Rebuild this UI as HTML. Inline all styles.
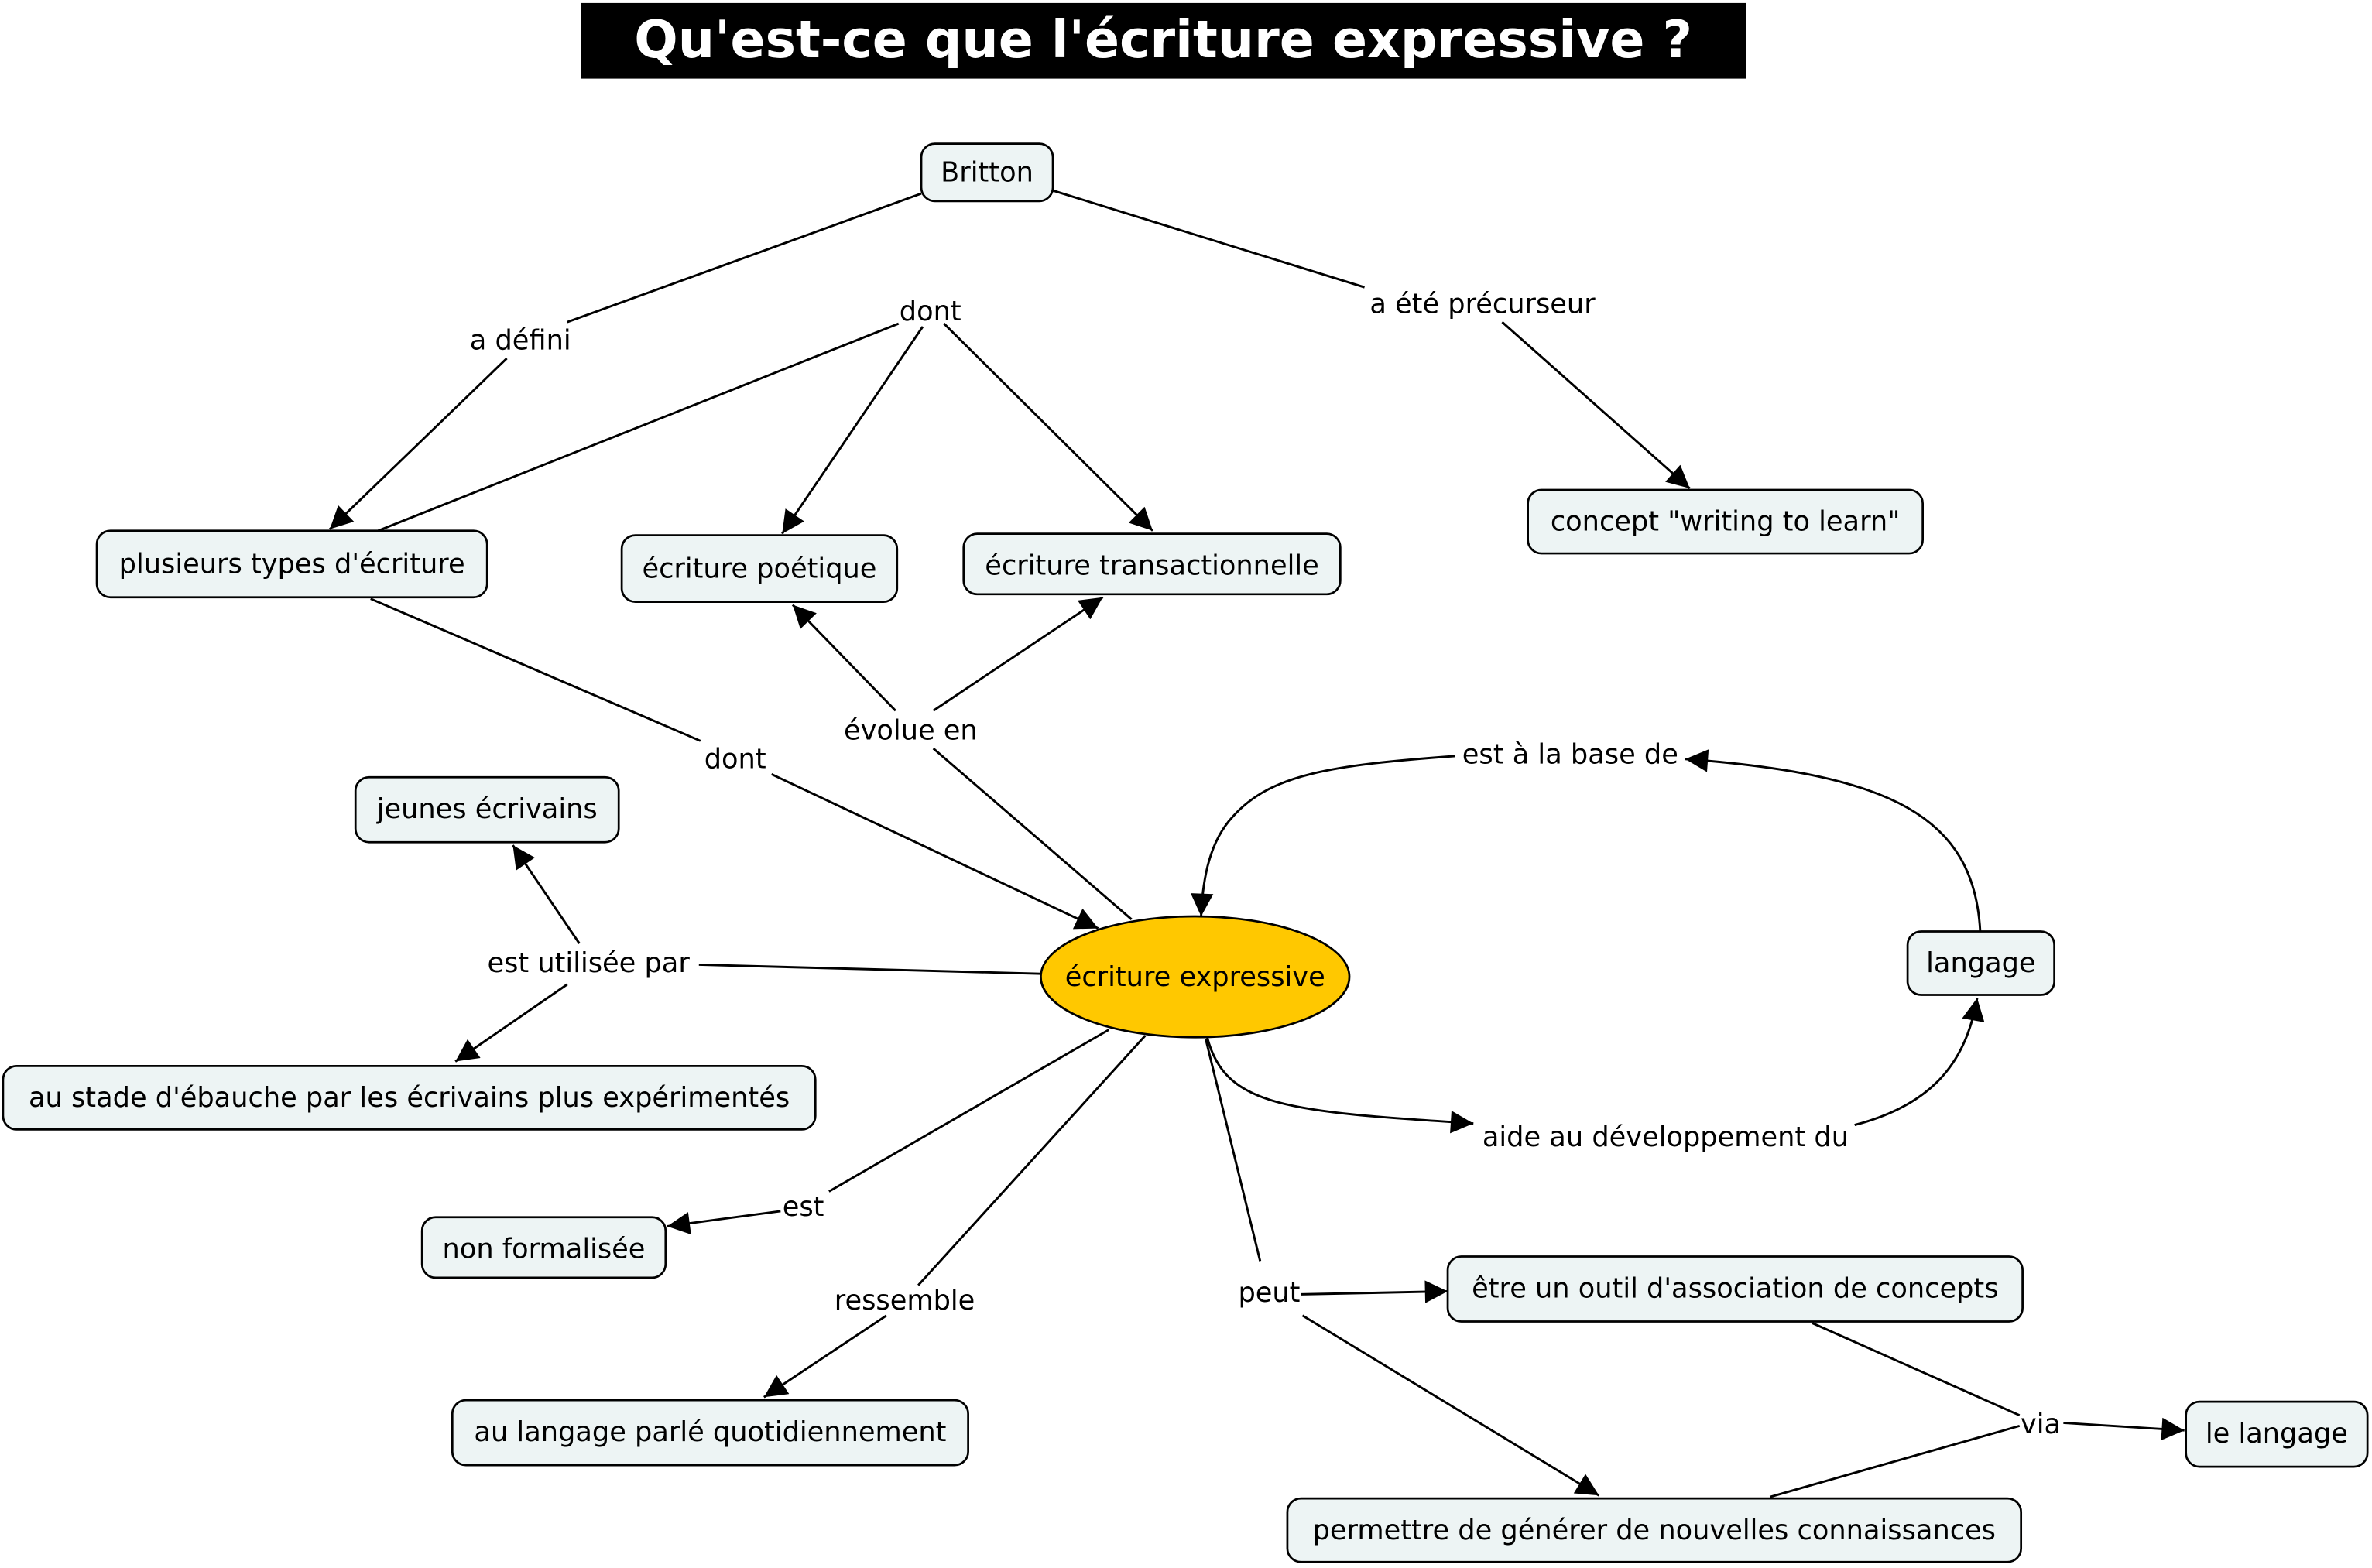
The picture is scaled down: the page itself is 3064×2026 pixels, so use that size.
<!DOCTYPE html>
<html><head><meta charset="utf-8">
<style>
html,body{margin:0;padding:0;background:#fff;width:3064px;height:2026px;overflow:hidden}
svg{display:block}
text{font-family:"DejaVu Sans","Liberation Sans",sans-serif;font-size:18px;fill:#000}
.n{fill:#EDF4F4;stroke:#000;stroke-width:1.4}
.l{stroke:#000;stroke-width:1.5;fill:none}
</style></head><body>
<svg width="3064" height="2026" viewBox="0 0 1568 1037" preserveAspectRatio="none" xmlns="http://www.w3.org/2000/svg">
<defs><marker id="b" viewBox="0 0 10 10" refX="10" refY="5" markerWidth="17" markerHeight="15" markerUnits="userSpaceOnUse" orient="auto"><path d="M0,0L10,5L0,10z" fill="#000"/></marker></defs>
<rect x="384" y="2" width="770" height="50" fill="#000"/>
<text x="769" y="38" text-anchor="middle" style="font-size:34px;font-weight:bold;fill:#fff">Qu'est-ce que l'écriture expressive ?</text>

<g class="l">
<path d="M609,128L375,213"/><path d="M335,237L218,350" marker-end="url(#b)"/>
<path d="M696,126L902,190"/><path d="M993,213L1117,323" marker-end="url(#b)"/>
<path d="M250,351L594,214"/><path d="M610,216L517,353" marker-end="url(#b)"/><path d="M624,214L762,351" marker-end="url(#b)"/>
<path d="M245,396L463,490"/><path d="M510,512L726,614" marker-end="url(#b)"/>
<path d="M748,608L617,495"/><path d="M592,470L524,400" marker-end="url(#b)"/><path d="M617,470L729,395" marker-end="url(#b)"/>
<path d="M1309,616C1305,540 1250,512 1114,502" marker-end="url(#b)"/>
<path d="M962,500C880,506 840,512 815,540C800,556 795,580 794,606" marker-end="url(#b)"/>
<path d="M688,644L462,638"/><path d="M383,624L339,559" marker-end="url(#b)"/><path d="M375,651L301,702" marker-end="url(#b)"/>
<path d="M798,686C810,732 850,735 974,743" marker-end="url(#b)"/>
<path d="M1226,744C1280,730 1300,700 1307,660" marker-end="url(#b)"/>
<path d="M733,681L548,788"/><path d="M516,801L441,811" marker-end="url(#b)"/>
<path d="M757,685L607,850"/><path d="M586,870L505,924" marker-end="url(#b)"/>
<path d="M797,687L833,834"/><path d="M860,856L957,854" marker-end="url(#b)"/><path d="M861,870L1057,989" marker-end="url(#b)"/>
<path d="M1198,875L1335,936"/><path d="M1170,990L1335,943"/><path d="M1364,941L1444,946" marker-end="url(#b)"/>
</g>

<g>
<rect class="n" x="609" y="95" width="87" height="38" rx="9"/><text x="652.5" y="120" text-anchor="middle">Britton</text>
<rect class="n" x="64" y="351" width="258" height="44" rx="9"/><text x="193" y="379" text-anchor="middle">plusieurs types d'écriture</text>
<rect class="n" x="411" y="354" width="182" height="44" rx="9"/><text x="502" y="382" text-anchor="middle">écriture poétique</text>
<rect class="n" x="637" y="353" width="249" height="40" rx="9"/><text x="761.5" y="380" text-anchor="middle">écriture transactionnelle</text>
<rect class="n" x="1010" y="324" width="261" height="42" rx="9"/><text x="1140.5" y="351" text-anchor="middle">concept "writing to learn"</text>
<rect class="n" x="235" y="514" width="174" height="43" rx="9"/><text x="322" y="541" text-anchor="middle">jeunes écrivains</text>
<rect class="n" x="1261" y="616" width="97" height="42" rx="9"/><text x="1309.5" y="643" text-anchor="middle">langage</text>
<rect class="n" x="2" y="705" width="537" height="42" rx="9"/><text x="270.5" y="732" text-anchor="middle">au stade d'ébauche par les écrivains plus expérimentés</text>
<ellipse cx="790" cy="646" rx="102" ry="40" fill="#FFC800" stroke="#000" stroke-width="1.4"/><text x="790" y="652" text-anchor="middle">écriture expressive</text>
<rect class="n" x="279" y="805" width="161" height="40" rx="9"/><text x="359.5" y="832" text-anchor="middle">non formalisée</text>
<rect class="n" x="299" y="926" width="341" height="43" rx="9"/><text x="469.5" y="953" text-anchor="middle">au langage parlé quotidiennement</text>
<rect class="n" x="957" y="831" width="380" height="43" rx="9"/><text x="1147" y="858" text-anchor="middle">être un outil d'association de concepts</text>
<rect class="n" x="851" y="991" width="485" height="42" rx="9"/><text x="1093.5" y="1018" text-anchor="middle">permettre de générer de nouvelles connaissances</text>
<rect class="n" x="1445" y="927" width="120" height="43" rx="9"/><text x="1505" y="954" text-anchor="middle">le langage</text>
</g>

<g text-anchor="middle">
<text x="344" y="231">a défini</text>
<text x="615" y="212">dont</text>
<text x="980" y="207">a été précurseur</text>
<text x="486" y="508">dont</text>
<text x="602" y="489">évolue en</text>
<text x="1038" y="505">est à la base de</text>
<text x="389" y="643">est utilisée par</text>
<text x="1101" y="758">aide au développement du</text>
<text x="531" y="804">est</text>
<text x="598" y="866">ressemble</text>
<text x="839" y="861">peut</text>
<text x="1349" y="948">via</text>
</g>
</svg>
</body></html>
